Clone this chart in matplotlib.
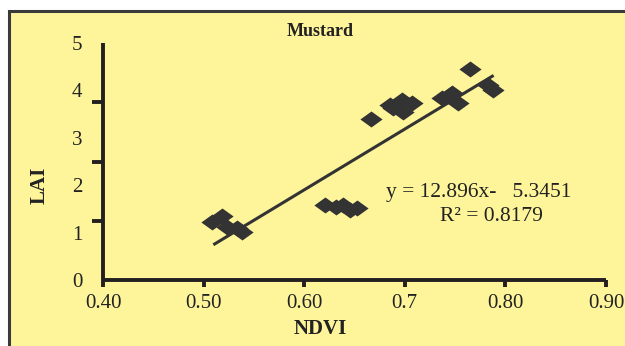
import numpy as np
import matplotlib
matplotlib.use('Agg')
import matplotlib.pyplot as plt
from matplotlib.path import Path
from matplotlib.patches import Rectangle

plt.rcParams['font.family'] = ['Liberation Serif', 'DejaVu Serif']

# NDVI / LAI readings for mustard
ndvi = [0.508, 0.518, 0.523, 0.533, 0.538,
        0.621, 0.632, 0.639, 0.646, 0.652,
        0.666, 0.685, 0.697, 0.707, 0.698, 0.688,
        0.737, 0.747, 0.753,
        0.765, 0.783, 0.788]
lai = [1.23, 1.34, 1.12, 1.09, 1.02,
       1.58, 1.55, 1.58, 1.48, 1.51,
       3.39, 3.69, 3.80, 3.73, 3.55, 3.63,
       3.83, 3.94, 3.73,
       4.45, 4.11, 4.01]

# linear trend line end points
trend_x = [0.511, 0.787]
trend_y = [0.76, 4.30]

x_ticks = [0.40, 0.50, 0.60, 0.70, 0.80, 0.90]
x_labels = ['0.40', '0.50', '0.60', '0.7', '0.80', '0.90']
y_ticks = [0, 1, 2, 3, 4, 5]
y_marks = [0, 1.25, 2.5, 3.75, 5]

bg = '#fef59b'
ink = '#231f20'

fig = plt.figure(figsize=(6.25, 3.46), dpi=100)
fig.patch.set_facecolor('white')
fig.patches.append(Rectangle((8.5 / 625, -0.1), 1.2, 1.1 - 10.5 / 346,
                             transform=fig.transFigure, facecolor=bg,
                             edgecolor='#3a3a3a', linewidth=2.2, zorder=-10))

ax = fig.add_axes([103 / 625, 1 - 280 / 346, 503 / 625, 237 / 346])
ax.set_facecolor('none')

# flattened diamond marker
diamond = Path([(-1, 0), (0, 0.72), (1, 0), (0, -0.72), (-1, 0)],
               [Path.MOVETO, Path.LINETO, Path.LINETO, Path.LINETO, Path.CLOSEPOLY])
ax.plot(ndvi, lai, linestyle='none', marker=diamond, markersize=16,
        color='#333333', markeredgewidth=0, zorder=3)
ax.plot(trend_x, trend_y, color='#333333', linewidth=2.2, zorder=4)

ax.set_xlim(0.4, 0.9)
ax.set_ylim(0, 5)
for s in ['top', 'right']:
    ax.spines[s].set_visible(False)
for s in ['left', 'bottom']:
    ax.spines[s].set_linewidth(2.8)
    ax.spines[s].set_color(ink)
    ax.spines[s].set_capstyle('butt')

ax.set_xticks(x_ticks)
ax.set_xticklabels(x_labels)
ax.tick_params(axis='x', direction='out', length=5, width=2.8, color=ink,
               labelsize=15, pad=5, labelcolor='#222222')
ax.set_yticks(y_ticks)
ax.set_yticks(y_marks, minor=True)
ax.tick_params(axis='y', which='major', length=0, labelsize=15, pad=15,
               labelcolor='#222222')
ax.tick_params(axis='y', which='minor', direction='out', length=8, width=2.8,
               color=ink)

ax.text(0.681, 1.84, 'y = 12.896x-   5.3451', fontsize=15.5, va='center',
        ha='left', color='#222222')
ax.text(0.735, 1.33, 'R² = 0.8179', fontsize=15.5, va='center', ha='left',
        color='#222222')

fig.text(320 / 625, 1 - 31 / 346, 'Mustard', fontsize=13, fontweight='bold',
         ha='center', va='center', color='#222222')
fig.text(320 / 625, 1 - 329 / 346, 'NDVI', fontsize=15, fontweight='bold',
         ha='center', va='center', color='#222222')
fig.text(40 / 625, 1 - 185 / 346, 'LAI', fontsize=15, fontweight='bold',
         ha='center', va='center', rotation=90, color='#222222')

fig.savefig('out.png', dpi=100)
